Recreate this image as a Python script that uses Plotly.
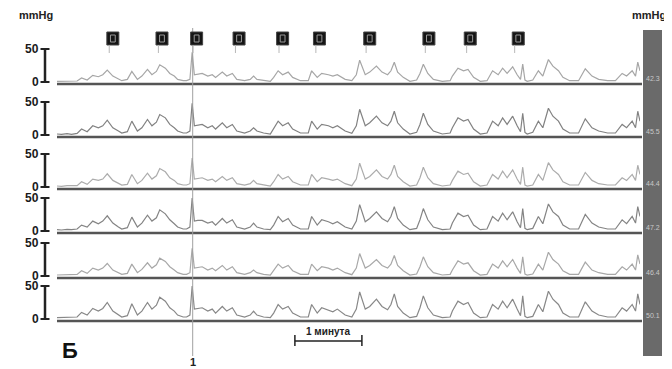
import plotly.graph_objects as go

# ---------------- data ----------------
time_s = [0,4,9,13,18,22,27,32,37,41, 45,50,55,58,63,67,72,76,81,85,
          89,92,97,101,105,108,113,116,119,121, 123,126,130,135,139,142,148,152,157,161,
          168,173,176,179,185,191,194,198,202,207, 211,218,225,228,233,237,243,247,251,258,
          264,268,271,276,280,286,291,296,299,302, 305,310,316,322,325,328,332,337,345,352,
          354,359,364,368,373,379,385,390,395,399, 403,408,412,415,417,419,421,426,431,435,
          440,444,449,453,459,467,473,479,485,493, 500,506,510,515,518,520,522]

ch1 = [1,1,1,1,1.5,6,3,10,8,11, 18,9,4,2,4,16,4,9,19,11, 16,26,21,13,9,4,2,2,4,45,
       11,12,13,9,11,7,15,9,13,4, 2,4,9,4,2,1,7,17,11,15, 7,2,2,17,7,13,11,9,11,4,
       2,11,33,11,15,24,15,11,17,30, 15,7,1,3,13,27,13,4,1,2, 9,21,17,19,7,1,2,17,11,21,
       13,23,11,4,27,3,1,3,17,9, 34,24,17,7,2,2,20,9,4,2, 2,13,9,17,9,30,17]
ch2 = [1.5,1,2,1,2.5,9,5,14,11,14, 22.5,11,6,3,5,21,6,11,23.5,14, 19.5,31,26,16,11,6,3,3,6,48,
       14,15,16,11,14,9,18.5,11,16,6, 3,6,11,6,3,1.5,9,21,14,18.5, 9,3,3,21,9,16,14,11,14,6,
       2.5,14,39,14,18.5,28.5,18.5,14,21,36, 18.5,9,1.5,4,16,33,16,6,1.5,3, 11,26,21,23.5,9,1.5,3,21,14,26,
       16,28.5,14,5,33,4,1.5,4,21,11, 40.5,28.5,21,9,3,3,24.5,11,6,3, 3,16,11,21,11,36,21]
ch3 = [1.5,1,2,1.5,2,8,4,12,10,12, 20,10,5,3,4,19,5,10,21,12, 17,28,23,14,10,5,3,3,5,44,
       12,13,14,10,12,8,16,10,14,5, 3,5,10,5,3,1.5,8,19,12,16, 8,3,3,19,8,14,12,10,12,5,
       2,12,36,12,16,26,16,12,19,33, 16,8,1.5,3,14,30,14,5,1.5,3, 10,24,19,21,8,1.5,3,19,12,24,
       14,26,12,4,30,3,1.5,3,19,10, 37,26,19,8,3,3,22,10,5,3, 3,14,10,19,10,33,19]
ch4 = [2,1.5,2.5,2,3,9,6,15,11,15, 23,12,6,3,5,21,6,12,24,15, 20,32,26,17,11,6,3,3,6,50,
       15,16,16,12,14,9,19,12,17,6, 3,6,12,6,3,2,9,22,14,19, 9,3,3,22,9,17,14,11,14,6,
       3,15,40,14,19,29,19,14,22,37, 19,9,2,4,17,34,17,6,2,3, 12,27,22,24,9,2,3,22,15,27,
       17,29,14,5,34,4,2,4,22,11, 41,29,22,9,3,3,25,12,6,3, 3,17,11,22,12,37,22]
ch5 = [1.5,1.5,2,1.5,2.5,8,4,12,9,12, 19,9,5,2.5,4,18,5,10,20,12, 17,27,22,14,9,5,2.5,2.5,5,42,
       12,13,14,9,12,8,16,9,14,5, 2.5,5,9,5,2.5,1.5,8,18,12,16, 8,2.5,2.5,18,8,14,12,9,12,5,
       2,12,34,12,16,25,16,12,18,31, 16,8,1.5,3,14,29,14,5,1.5,2.5, 9,23,18,20,8,1.5,2.5,18,12,23,
       14,25,12,4,29,3,1.5,3,18,9, 36,25,18,8,2.5,2.5,21,9,5,2.5, 2.5,14,9,18,9,32,18]
ch6 = [2,2,2.5,2,3,10,6,16,12,16, 25,12,6,3,5,23,6,12,25,15, 21,33,27,17,12,6,3,3,6,50,
       15,16,17,12,15,9,19,12,17,6, 3,6,12,6,3,2,9,22,15,19, 9,3,3,22,9,17,14,11,15,6,
       3,15,41,15,19,30,19,14,22,38, 19,9,2,4,17,35,17,6,2,3, 12,27,22,25,9,2,3,22,15,27,
       17,30,15,5,35,4,2,4,22,11, 42,30,22,9,3,3,26,12,6,3, 3,17,12,22,12,38,22]
channels = [ch1, ch2, ch3, ch4, ch5, ch6]

scale_ticks = [0, 50]
scale_tick_labels = ["0", "50"]
event_times = [50, 94, 125, 163, 202, 235, 280, 333, 370, 413]
marker_time = 121.5
marker_label = "1"
scale_bar_start = 213
scale_bar_len = 60
scale_bar_label = "1 минута"
right_labels = ["42.3", "45.5", "44.4", "47.2", "46.4", "50.1"]
unit_label = "mmHg"
panel_letter = "Б"

# ---------------- layout helpers ----------------
OFF = 8                      # page body margin offset
W, H = 672 - OFF, 369 - OFF  # figure size so page content ends at the window edge
X0_PX, X1_PX = 57, 640
baseline_px = [84, 137, 189, 233, 278, 321]
PX_PER_MMHG = 0.66
colors = ["#a6a6a6", "#828282", "#acacac", "#848484", "#a8a8a8", "#888888"]

def py(px):
    return 1 - (px - OFF) / H

def px_x(px):
    return (px - OFF) / W

fig = go.Figure()
layout = dict(
    width=W, height=H, margin=dict(l=0, r=0, t=0, b=0, pad=0),
    paper_bgcolor="white", plot_bgcolor="rgba(0,0,0,0)", showlegend=False,
    xaxis=dict(domain=[px_x(X0_PX), px_x(X1_PX)], range=[0, time_s[-1]], visible=False, fixedrange=True),
)
shapes = []
annotations = []
font_b = "Liberation Sans, Arial, sans-serif"

for i, vals in enumerate(channels):
    ax = "" if i == 0 else str(i + 1)
    zero_px = baseline_px[i] - 2
    bot_px, top_px = zero_px + 5, zero_px - 52
    layout["yaxis" + ax] = dict(
        domain=[py(bot_px), py(top_px)],
        range=[-5 / PX_PER_MMHG, 52 / PX_PER_MMHG],
        visible=False, fixedrange=True, anchor="x",
    )
    fig.add_trace(go.Scatter(x=time_s, y=vals, mode="lines", yaxis="y" + ax, xaxis="x",
                             line=dict(color=colors[i], width=1.2), hoverinfo="skip"))
    yref = "y" + ax
    base_val = -2 / PX_PER_MMHG
    # baseline
    shapes.append(dict(type="line", xref="paper", yref=yref, x0=px_x(X0_PX), x1=px_x(X1_PX + 2),
                       y0=base_val, y1=base_val, line=dict(color="#555555", width=2.5)))
    # I-beam scale
    shapes.append(dict(type="line", xref="paper", yref=yref, x0=px_x(45), x1=px_x(45),
                       y0=scale_ticks[0], y1=scale_ticks[1], line=dict(color="#222222", width=2.5)))
    for v in scale_ticks:
        shapes.append(dict(type="line", xref="paper", yref=yref, x0=px_x(40.5), x1=px_x(49.5),
                           y0=v, y1=v, line=dict(color="#222222", width=2)))
    for v, lab in zip(scale_ticks, scale_tick_labels):
        annotations.append(dict(xref="paper", yref=yref, x=px_x(40.5), y=v, text="<b>%s</b>" % lab,
                                showarrow=False, xanchor="right", yanchor="middle",
                                font=dict(family=font_b, size=12, color="#1a1a1a")))
    annotations.append(dict(xref="paper", yref=yref, x=px_x(652.5), y=5, text=right_labels[i],
                            showarrow=False, xanchor="center", yanchor="middle",
                            font=dict(family=font_b, size=7, color="#c8c8c8")))

# right gray bar
shapes.insert(0, dict(type="rect", xref="paper", yref="paper", x0=px_x(643), x1=px_x(662),
                      y0=py(356), y1=py(30), fillcolor="#6a6a6a", line=dict(width=0), layer="below"))

# vertical marker line
shapes.append(dict(type="line", xref="x", yref="paper", x0=marker_time, x1=marker_time,
                   y0=py(356), y1=py(28), line=dict(color="#a0a0a0", width=1)))
annotations.append(dict(xref="x", yref="paper", x=marker_time, y=py(362), text="<b>%s</b>" % marker_label,
                        showarrow=False, xanchor="center", yanchor="middle",
                        font=dict(family=font_b, size=11, color="#222222")))

# event markers
half = 6 / ((X1_PX - X0_PX) / time_s[-1])
for t in event_times:
    shapes.append(dict(type="rect", xref="x", yref="paper", x0=t - half, x1=t + half,
                       y0=py(45), y1=py(32), fillcolor="#151515", line=dict(color="#444444", width=1)))
    shapes.append(dict(type="rect", xref="x", yref="paper", x0=t - half * 0.4, x1=t + half * 0.4,
                       y0=py(42), y1=py(35), fillcolor="rgba(0,0,0,0)", line=dict(color="#9a9a9a", width=1)))
    shapes.append(dict(type="line", xref="x", yref="paper", x0=t - half * 0.6, x1=t - half * 0.6,
                       y0=py(53), y1=py(45), line=dict(color="#b8b8b8", width=1)))

# scale bar 1 minute
sb0, sb1 = scale_bar_start, scale_bar_start + scale_bar_len
shapes.append(dict(type="line", xref="x", yref="paper", x0=sb0, x1=sb1, y0=py(341), y1=py(341),
                   line=dict(color="#222222", width=1.5)))
for xv in (sb0, sb1):
    shapes.append(dict(type="line", xref="x", yref="paper", x0=xv, x1=xv, y0=py(346), y1=py(335),
                       line=dict(color="#222222", width=1.5)))
annotations.append(dict(xref="x", yref="paper", x=(sb0 + sb1) / 2, y=py(331), text="<b>%s</b>" % scale_bar_label,
                        showarrow=False, xanchor="center", yanchor="middle",
                        font=dict(family=font_b, size=10, color="#222222")))

# unit labels and panel letter
annotations.append(dict(xref="paper", yref="paper", x=px_x(36), y=py(15), text="<b>%s</b>" % unit_label,
                        showarrow=False, xanchor="center", yanchor="middle",
                        font=dict(family=font_b, size=11, color="#222222")))
annotations.append(dict(xref="paper", yref="paper", x=px_x(649), y=py(15), text="<b>%s</b>" % unit_label,
                        showarrow=False, xanchor="center", yanchor="middle",
                        font=dict(family=font_b, size=11, color="#222222")))
annotations.append(dict(xref="paper", yref="paper", x=px_x(70), y=py(350), text="<b>%s</b>" % panel_letter,
                        showarrow=False, xanchor="center", yanchor="middle",
                        font=dict(family=font_b, size=22, color="#111111")))

layout["shapes"] = shapes
layout["annotations"] = annotations
fig.update_layout(**layout)
fig.write_html("out.html", config={"displayModeBar": False})
